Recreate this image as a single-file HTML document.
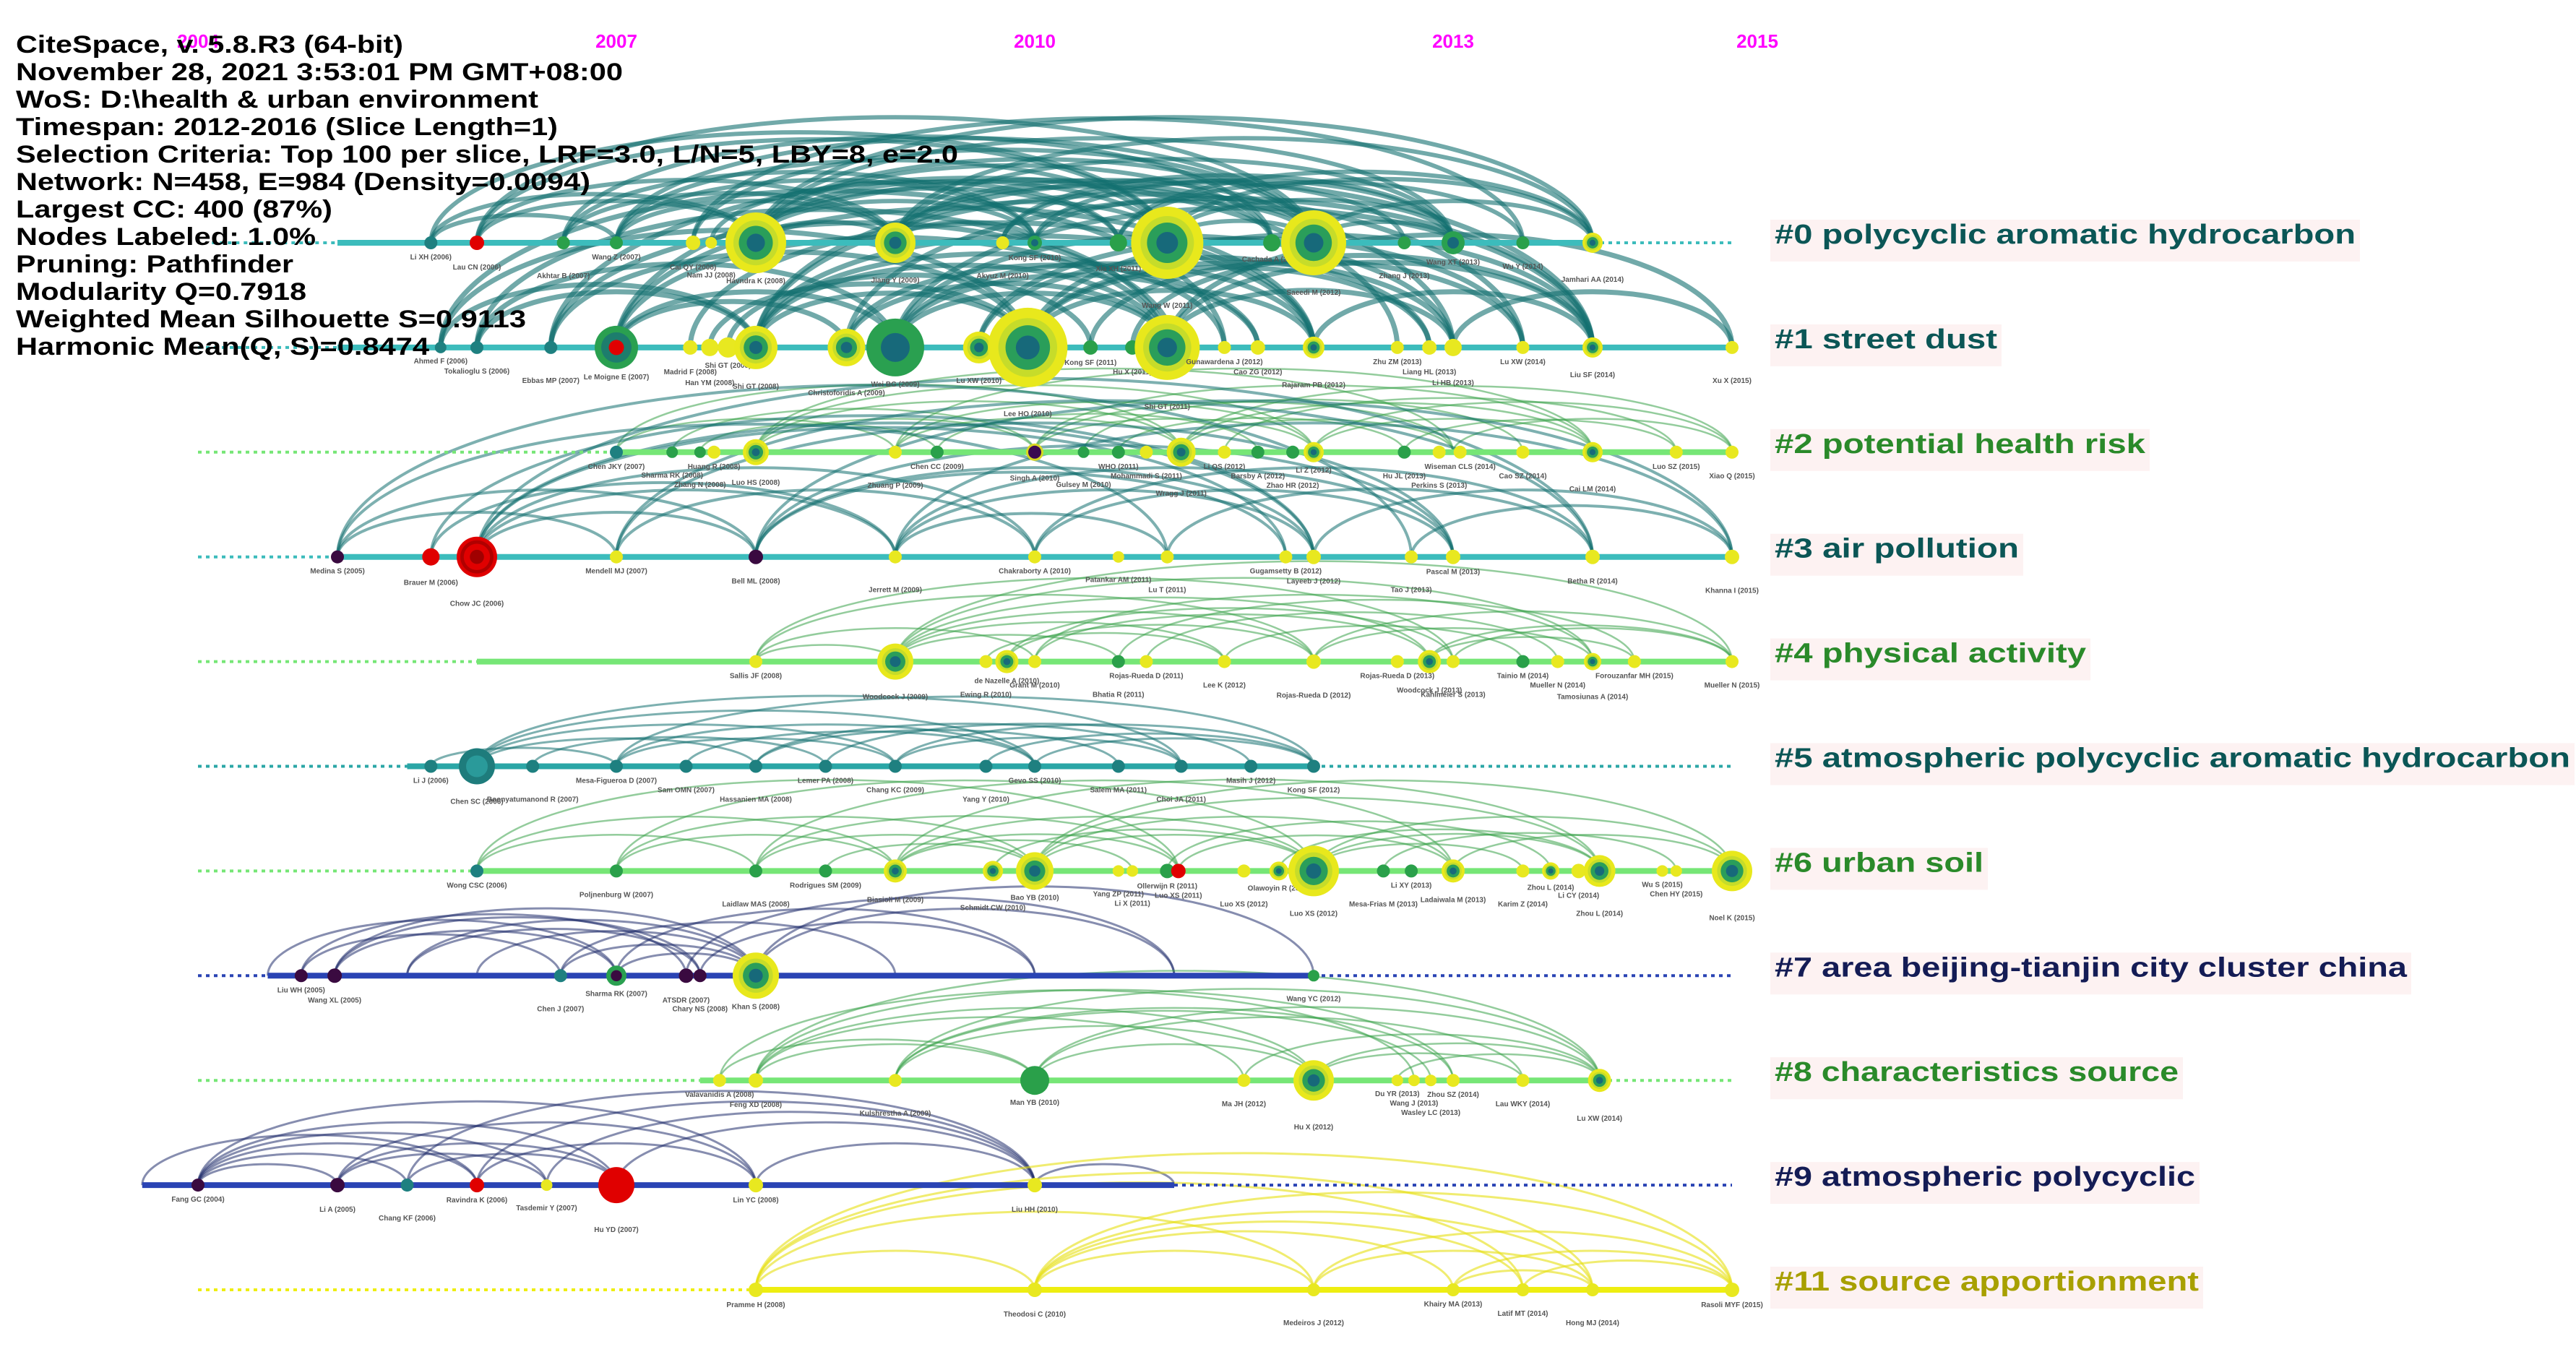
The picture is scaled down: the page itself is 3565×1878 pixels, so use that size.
<!DOCTYPE html>
<html><head><meta charset="utf-8"><style>
html,body{margin:0;padding:0;background:#fff;}
svg{display:block;font-family:"Liberation Sans",sans-serif;}
</style></head><body>
<svg id="chart" width="3565" height="1878" viewBox="0 0 3565 1878" xmlns="http://www.w3.org/2000/svg">
<g id="arcs"></g>
<g id="lines"></g>
<g id="nodes"></g>
<g id="labels"></g>
<g id="years"></g>
<g id="meta"></g>
</svg>
<script>
const tickYears=[2004,2007,2010,2013,2015];
const clusterIds=["#0","#1","#2","#3","#4","#5","#6","#7","#8","#9","#11"];
const clusterNames=["polycyclic aromatic hydrocarbon","street dust","potential health risk","air pollution","physical activity","atmospheric polycyclic aromatic hydrocarbon","urban soil","area beijing-tianjin city cluster china","characteristics source","atmospheric polycyclic","source apportionment"];
const dashStart=[2004.1,2004.0,2004.0,2004.0,2004.0,2004.0,2004.0,2004.0,2004.0,2003.6,2004.0];
const solidStart=[2005.0,2005.0,2007.0,2005.0,2006.0,2005.5,2006.0,2004.5,2007.6,2003.6,2008.0];
const solidEnd=[2014.0,2015.0,2015.0,2015.0,2015.0,2012.0,2015.0,2012.0,2014.0,2011.0,2015.0];
const dashEnd=[2015,2015,2015,2015,2015,2015,2015,2015,2015,2015,2015];
const metaLines=["CiteSpace, v. 5.8.R3 (64-bit)","November 28, 2021 3:53:01 PM GMT+08:00","WoS: D:\\health & urban environment","Timespan: 2012-2016 (Slice Length=1)","Selection Criteria: Top 100 per slice, LRF=3.0, L/N=5, LBY=8, e=2.0","Network: N=458, E=984 (Density=0.0094)","Largest CC: 400 (87%)","Nodes Labeled: 1.0%","Pruning: Pathfinder","Modularity Q=0.7918","Weighted Mean Silhouette S=0.9113","Harmonic Mean(Q, S)=0.8474"];
const metaWidths=[536,840,723,750,1304,795,438,415,384,402,706,572];
const labelWidths=[804,308,513,338,431,1101,289,875,559,582,587];

const nodes0=[[2005.67,9,'t','Li XH (2006)'],[2006.0,10,'r','Lau CN (2006)'],[2006.62,9,'g','Akhtar B (2007)'],[2007.0,9,'g','Wang Z (2007)'],[2007.55,10,'y','Cai QY (2008)'],[2007.68,8,'y','Nam JJ (2008)'],[2008.0,42,'yr','Havndra K (2008)'],[2009.0,28,'yr','Jiang Y (2009)'],[2009.77,9,'y','Akyuz M (2010)'],[2010.0,10,'gr','Kong SF (2010)'],[2010.6,12,'g','Xia XH (2011)'],[2010.95,50,'yr','Wang W (2011)'],[2011.7,12,'g','Cachada A (2012)'],[2012.0,45,'yr','Saeedi M (2012)'],[2012.65,9,'g','Zhang J (2013)'],[2013.0,16,'gr','Wang XT (2013)'],[2013.5,9,'g','Wu Y (2014)'],[2014.0,14,'yr','Jamhari AA (2014)']];
const nodes1=[[2005.74,8,'t','Ahmed F (2006)'],[2006.0,9,'t','Tokalioglu S (2006)'],[2006.53,9,'t','Ebbas MP (2007)'],[2007.0,30,'grr','Le Moigne E (2007)'],[2007.53,10,'y','Madrid F (2008)'],[2007.67,12,'y','Han YM (2008)'],[2007.8,14,'y','Shi GT (2008)'],[2008.0,30,'yr','Shi GT (2008)'],[2008.65,26,'yr','Christoforidis A (2009)'],[2009.0,40,'gr','Wei BG (2009)'],[2009.6,22,'yr','Lu XW (2010)'],[2009.95,55,'yr','Lee HO (2010)'],[2010.4,10,'g','Kong SF (2011)'],[2010.7,10,'g','Hu X (2011)'],[2010.95,45,'yr','Shi GT (2011)'],[2011.36,9,'y','Gunawardena J (2012)'],[2011.6,10,'y','Cao ZG (2012)'],[2012.0,15,'yr','Rajaram PB (2012)'],[2012.6,9,'y','Zhu ZM (2013)'],[2012.83,10,'y','Liang HL (2013)'],[2013.0,12,'y','Li HB (2013)'],[2013.5,9,'y','Lu XW (2014)'],[2014.0,14,'yr','Liu SF (2014)'],[2015.0,9,'y','Xu X (2015)']];
const nodes2=[[2007.0,9,'t','Chen JKY (2007)'],[2007.4,8,'g','Sharma RK (2008)'],[2007.6,8,'g','Zhang N (2008)'],[2007.7,9,'y','Huang R (2008)'],[2008.0,18,'yr','Luo HS (2008)'],[2009.0,9,'y','Zhuang P (2009)'],[2009.3,9,'g','Chen CC (2009)'],[2010.0,12,'pr','Singh A (2010)'],[2010.35,8,'g','Gulsey M (2010)'],[2010.6,9,'g','WHO (2011)'],[2010.8,9,'y','Mohammadi S (2011)'],[2011.05,20,'yr','Wragg J (2011)'],[2011.36,9,'y','Li QS (2012)'],[2011.6,9,'g','Barsby A (2012)'],[2011.85,9,'g','Zhao HR (2012)'],[2012.0,14,'yr','Li Z (2012)'],[2012.65,9,'g','Hu JL (2013)'],[2012.9,9,'y','Perkins S (2013)'],[2013.05,9,'y','Wiseman CLS (2014)'],[2013.5,9,'y','Cao SZ (2014)'],[2014.0,14,'yr','Cai LM (2014)'],[2014.6,9,'y','Luo SZ (2015)'],[2015.0,9,'y','Xiao Q (2015)']];
const nodes3=[[2005.0,9,'p','Medina S (2005)'],[2005.67,12,'r','Brauer M (2006)'],[2006.0,28,'rr','Chow JC (2006)'],[2007.0,9,'y','Mendell MJ (2007)'],[2008.0,10,'p','Bell ML (2008)'],[2009.0,9,'y','Jerrett M (2009)'],[2010.0,9,'y','Chakraborty A (2010)'],[2010.6,8,'y','Patankar AM (2011)'],[2010.95,9,'y','Lu T (2011)'],[2011.8,9,'y','Gugamsetty B (2012)'],[2012.0,10,'y','Layeeb J (2012)'],[2012.7,9,'y','Tao J (2013)'],[2013.0,10,'y','Pascal M (2013)'],[2014.0,10,'y','Betha R (2014)'],[2015.0,10,'y','Khanna I (2015)']];
const nodes4=[[2008.0,9,'y','Sallis JF (2008)'],[2009.0,25,'yr','Woodcock J (2009)'],[2009.65,9,'y','Ewing R (2010)'],[2009.8,16,'yr','de Nazelle A (2010)'],[2010.0,9,'y','Grant M (2010)'],[2010.6,9,'g','Bhatia R (2011)'],[2010.8,9,'y','Rojas-Rueda D (2011)'],[2011.36,9,'y','Lee K (2012)'],[2012.0,10,'y','Rojas-Rueda D (2012)'],[2012.6,9,'y','Rojas-Rueda D (2013)'],[2012.83,16,'yr','Woodcock J (2013)'],[2013.0,9,'y','Kahlmeier S (2013)'],[2013.5,9,'g','Tainio M (2014)'],[2013.75,9,'y','Mueller N (2014)'],[2014.0,12,'yr','Tamosiunas A (2014)'],[2014.3,9,'y','Forouzanfar MH (2015)'],[2015.0,9,'y','Mueller N (2015)']];
const nodes5=[[2005.67,9,'t','Li J (2006)'],[2006.0,25,'tr','Chen SC (2006)'],[2006.4,9,'t','Boonyatumanond R (2007)'],[2007.0,9,'t','Mesa-Figueroa D (2007)'],[2007.5,9,'t','Sam OMN (2007)'],[2008.0,9,'t','Hassanien MA (2008)'],[2008.5,9,'t','Lemer PA (2008)'],[2009.0,9,'t','Chang KC (2009)'],[2009.65,9,'t','Yang Y (2010)'],[2010.0,9,'t','Gevo SS (2010)'],[2010.6,9,'t','Salem MA (2011)'],[2011.05,9,'t','Choi JA (2011)'],[2011.55,9,'t','Masih J (2012)'],[2012.0,9,'t','Kong SF (2012)']];
const nodes6=[[2006.0,9,'t','Wong CSC (2006)'],[2007.0,9,'g','Poljnenburg W (2007)'],[2008.0,9,'g','Laidlaw MAS (2008)'],[2008.5,9,'g','Rodrigues SM (2009)'],[2009.0,16,'yr','Biasioli M (2009)'],[2009.7,14,'yr','Schmidt CW (2010)'],[2010.0,26,'yr','Bao YB (2010)'],[2010.6,8,'y','Yang ZP (2011)'],[2010.7,8,'y','Li X (2011)'],[2010.95,10,'g','Ollerwijn R (2011)'],[2011.03,10,'r','Luo XS (2011)'],[2011.5,9,'y','Luo XS (2012)'],[2011.75,13,'yr','Olawoyin R (2012)'],[2012.0,35,'yr','Luo XS (2012)'],[2012.5,9,'g','Mesa-Frias M (2013)'],[2012.7,9,'g','Li XY (2013)'],[2013.0,16,'yr','Ladaiwala M (2013)'],[2013.5,9,'y','Karim Z (2014)'],[2013.7,12,'yr','Zhou L (2014)'],[2013.9,10,'y','Li CY (2014)'],[2014.05,22,'yr','Zhou L (2014)'],[2014.5,8,'y','Wu S (2015)'],[2014.6,8,'y','Chen HY (2015)'],[2015.0,28,'yr','Noel K (2015)']];
const nodes7=[[2004.74,9,'p','Liu WH (2005)'],[2004.98,10,'p','Wang XL (2005)'],[2006.6,9,'t','Chen J (2007)'],[2007.0,14,'gp','Sharma RK (2007)'],[2007.5,10,'p','ATSDR (2007)'],[2007.6,9,'p','Chary NS (2008)'],[2008.0,32,'yr','Khan S (2008)'],[2012.0,8,'g','Wang YC (2012)']];
const nodes8=[[2007.74,9,'y','Valavanidis A (2008)'],[2008.0,10,'y','Feng XD (2008)'],[2009.0,9,'y','Kulshrestha A (2009)'],[2010.0,20,'g','Man YB (2010)'],[2011.5,9,'y','Ma JH (2012)'],[2012.0,28,'yr','Hu X (2012)'],[2012.6,8,'y','Du YR (2013)'],[2012.72,8,'y','Wang J (2013)'],[2012.84,8,'y','Wasley LC (2013)'],[2013.0,9,'y','Zhou SZ (2014)'],[2013.5,9,'y','Lau WKY (2014)'],[2014.05,16,'yr','Lu XW (2014)']];
const nodes9=[[2004.0,9,'p','Fang GC (2004)'],[2005.0,10,'p','Li A (2005)'],[2005.5,9,'t','Chang KF (2006)'],[2006.0,10,'r','Ravindra K (2006)'],[2006.5,8,'y','Tasdemir Y (2007)'],[2007.0,25,'r','Hu YD (2007)'],[2008.0,10,'y','Lin YC (2008)'],[2010.0,10,'y','Liu HH (2010)']];
const nodes11=[[2008.0,10,'y','Pramme H (2008)'],[2010.0,10,'y','Theodosi C (2010)'],[2012.0,9,'y','Medeiros J (2012)'],[2013.0,9,'y','Khairy MA (2013)'],[2013.5,9,'y','Latif MT (2014)'],[2014.0,9,'y','Hong MJ (2014)'],[2015.0,10,'y','Rasoli MYF (2015)']];

const links0=[[2005.67,2008],[2006,2008],[2006,2009],[2006.62,2009],[2007,2010],[2007,2010.95],[2008,2010.95],[2008,2012],[2008,2011.7],[2008,2013],[2009,2010.95],[2009,2012],[2009,2014],[2007.55,2012],[2006,2010.95],[2010,2012],[2010.95,2013],[2010.95,2014],[2012,2014],[2012,2013],[2009.77,2013],[2008,2009],[2010.95,2012],[2007,2009],[2005.67,2007],[2008,2014],[2006.62,2011.7],[2009,2011.7],[2010.6,2013.5],[2007.68,2010.6],[2009,2013],[2008,2010],[2006,2012],[2005.67,2010.95],[2007,2012],[2007.55,2013.5],[2009.77,2012.65],[2010,2013],[2010.6,2014],[2006.62,2010],[2008,2010.6],[2009,2010]];
const links1=[[2005.74,2008],[2006,2009],[2006.53,2009.95],[2007,2009],[2007,2010.95],[2008,2009.95],[2008,2010.95],[2008,2012],[2009,2010.95],[2009,2012],[2009,2013],[2009.95,2012],[2009.95,2013],[2009.95,2014],[2010.95,2013],[2010.95,2014],[2010.95,2015],[2008.65,2011.6],[2007.8,2010.4],[2006,2008],[2007,2008.65],[2012,2014],[2013,2015],[2008,2013.5],[2006.53,2011],[2009.6,2012.83],[2008.65,2014],[2007.53,2012],[2005.74,2009.95],[2010.4,2013.5],[2006,2010.95],[2007,2012],[2007,2013],[2008,2014],[2009,2014],[2009.6,2013.5],[2008.65,2010.95],[2005.74,2011.36],[2006.53,2012.6],[2009.95,2012.83],[2010.7,2014],[2007.67,2009.95],[2008,2011.36],[2009,2011.6]];
const links2=[[2007,2009],[2007.4,2010],[2008,2010],[2008,2011.05],[2009,2011.05],[2009,2012],[2010,2012],[2010,2013],[2011.05,2013],[2011.05,2014],[2012,2014],[2012,2015],[2009.3,2011.6],[2010.6,2012.65],[2013,2015],[2008,2012],[2011.05,2015],[2007.6,2009.3],[2012.65,2014.6],[2010,2014],[2007,2011.05],[2008,2013],[2009,2014],[2011.36,2014.6],[2010.35,2013.5]];
const links3=[[2005,2008],[2005.67,2009],[2006,2009],[2006,2010],[2006,2012],[2007,2010],[2005,2010.95],[2008,2011.8],[2008,2012],[2009,2012],[2009,2013],[2010,2013],[2010,2014],[2010.95,2014],[2012,2015],[2005.67,2012],[2006,2014],[2007,2013],[2008,2015],[2012.7,2015],[2009,2010.95],[2005,2007],[2006,2011.8],[2005,2012.7],[2007,2014],[2008,2013],[2009,2015],[2006,2008]];
const links4=[[2008,2009],[2008,2010],[2009,2010.6],[2009,2011.36],[2009,2012],[2009,2012.83],[2009.8,2012],[2009.8,2013],[2010,2012.83],[2010,2014],[2011.36,2013.5],[2012,2014],[2012,2015],[2012.83,2014.3],[2012.83,2015],[2013,2015],[2009,2014],[2010.8,2013.75],[2009.65,2011.36],[2008,2012],[2009,2015],[2010.6,2014.3],[2008,2013]];
const links5=[[2005.67,2007],[2006,2008],[2006,2009],[2006.4,2008.5],[2007,2009],[2007,2010],[2007.5,2010],[2008,2010.6],[2008,2011.05],[2009,2011.05],[2009,2012],[2010,2012],[2006,2010],[2008.5,2011.55],[2009.65,2012],[2006,2011.05],[2007,2012]];
const links6=[[2006,2008],[2006,2009],[2007,2009],[2007,2010],[2008,2010],[2008,2011.03],[2009,2011.03],[2009,2012],[2009.7,2012],[2010,2012],[2010,2013],[2010,2014.05],[2011.03,2013],[2011.75,2014.05],[2012,2014.05],[2012,2015],[2013,2015],[2012.5,2014.6],[2008.5,2010],[2010.95,2013.7],[2009,2010.7],[2012,2013.5],[2006,2011.03],[2007,2012],[2008,2013],[2009,2014.05],[2010,2015]];
const links7=[[2004.74,2006.6],[2004.98,2007],[2004.98,2007.6],[2004.98,2008],[2004.74,2007.5],[2006.6,2008],[2007,2008],[2006.6,2009],[2007,2010],[2007.5,2011],[2008,2011],[2008,2012],[2007.6,2010],[2005.5,2007.6],[2006,2008],[2004.5,2007],[2005.5,2008]];
const links8=[[2007.74,2010],[2008,2010],[2008,2011.5],[2008,2012],[2009,2012],[2009,2013],[2010,2012],[2010,2013.5],[2011.5,2014.05],[2012,2014.05],[2012,2013.5],[2008,2014.05],[2009,2012.84],[2012.6,2014.05],[2007.74,2012.72],[2009,2014.05],[2010,2014.05],[2008,2013]];
const links9=[[2004,2005],[2004,2006],[2004,2006.5],[2004,2007],[2005,2006.5],[2005,2007],[2005,2008],[2005.5,2007],[2006,2008],[2006,2010],[2006.5,2010],[2007,2010],[2008,2010],[2004,2005.5],[2005.5,2010],[2010,2011],[2004,2008],[2003.6,2006]];
const links11=[[2008,2010],[2008,2012],[2008,2013.5],[2010,2012],[2010,2013],[2010,2014],[2010,2015],[2012,2014],[2012,2015],[2013,2015],[2013.5,2015],[2013,2014],[2008,2014],[2010,2013.5],[2008,2015]];

const allNodes=[nodes0,nodes1,nodes2,nodes3,nodes4,nodes5,nodes6,nodes7,nodes8,nodes9,nodes11];
const allLinks=[links0,links1,links2,links3,links4,links5,links6,links7,links8,links9,links11];
const laneStyle=[
 {line:'#3cbcbc',arc:'#127070',w:6,k:0.3,op:0.6,label:'#0b5656'},
 {line:'#3cbcbc',arc:'#127070',w:7,k:0.4,op:0.6,label:'#0b5656'},
 {line:'#76e676',arc:'#3aa34a',w:2.5,k:0.24,op:0.55,label:'#2a8a2a'},
 {line:'#3cbcbc',arc:'#127070',w:4,k:0.32,op:0.55,label:'#0b5656'},
 {line:'#76e676',arc:'#3aa34a',w:2.5,k:0.24,op:0.55,label:'#2a8a2a'},
 {line:'#2aa6a6',arc:'#127070',w:3,k:0.2,op:0.55,label:'#0b5656'},
 {line:'#76e676',arc:'#3aa34a',w:2.5,k:0.26,op:0.55,label:'#2a8a2a'},
 {line:'#2a44b4',arc:'#23306e',w:3,k:0.32,op:0.55,label:'#141c55'},
 {line:'#76e676',arc:'#3aa34a',w:2.5,k:0.26,op:0.55,label:'#2a8a2a'},
 {line:'#2a44b4',arc:'#23306e',w:3,k:0.3,op:0.55,label:'#141c55'},
 {line:'#eeee10',arc:'#e6e010',w:3,k:0.28,op:0.6,label:'#a8a000'}];

const NS='http://www.w3.org/2000/svg';
function xs(yr){return 1432+(yr-2010)*193;}
function laneY(i){return 336+i*144.9;}
function mk(tag,parent,attrs){const e=document.createElementNS(NS,tag);for(const k in attrs)e.setAttribute(k,attrs[k]);parent.appendChild(e);return e;}
const gArcs=document.getElementById('arcs'),gLines=document.getElementById('lines'),gNodes=document.getElementById('nodes'),gLab=document.getElementById('labels'),gYears=document.getElementById('years'),gMeta=document.getElementById('meta');

allLinks.forEach((links,i)=>{
 const y=laneY(i),st=laneStyle[i];
 links.forEach(([a,b])=>{
  const x1=xs(a),x2=xs(b),rx=(x2-x1)/2,ry=rx*st.k;
  const p=mk('path',gArcs,{d:`M${x1},${y} A${rx},${Math.max(ry,10)} 0 0 1 ${x2},${y}`,fill:'none',stroke:st.arc,'stroke-width':st.w,'stroke-opacity':st.op});
  
  
 });
});

clusterIds.forEach((id,i)=>{
 const y=laneY(i),st=laneStyle[i];
 const d1=mk('line',gLines,{x1:xs(dashStart[i]),y1:y,x2:xs(solidStart[i]),y2:y,stroke:st.line,'stroke-width':4,'stroke-dasharray':'5 6'});
 
 
 const s=mk('line',gLines,{x1:xs(solidStart[i]),y1:y,x2:xs(solidEnd[i]),y2:y,stroke:st.line,'stroke-width':8});
 
 
 if(dashEnd[i]>solidEnd[i]){
  const d2=mk('line',gLines,{x1:xs(solidEnd[i]),y1:y,x2:xs(dashEnd[i]),y2:y,stroke:st.line,'stroke-width':4,'stroke-dasharray':'5 6'});
  
  
 }
});

const ringSets={
 yr:[[1,'#e8e81c'],[0.74,'#c6dc2a'],[0.56,'#2a9e5a'],[0.3,'#17697a']],
 gr:[[1,'#2aa050'],[0.5,'#17697a']],
 grr:[[1,'#2aa050'],[0.7,'#1d7d6d'],[0.35,'#e00000']],
 rr:[[1,'#e00000'],[0.82,'#b00000'],[0.65,'#e00000'],[0.35,'#a00000']],
 pr:[[1,'#d8d820'],[0.75,'#3a0a50']],
 tr:[[1,'#1e7c7c'],[0.6,'#2a9a9a']],
 gp:[[1,'#2aa050'],[0.55,'#3a0a40']],
 t:[[1,'#1e8080']],g:[[1,'#2aa04a']],r:[[1,'#e00000']],p:[[1,'#3a0a40']],y:[[1,'#e8e820']]};
allNodes.forEach((ns,i)=>{
 const y=laneY(i);
 ns.forEach((n,j)=>{
  const [yr,r,type,lab]=n;const x=xs(yr);
  const g=mk('g',gNodes,{});
  
  
  ringSets[type].forEach(([f,c])=>mk('circle',g,{cx:x,cy:y,r:r*f,fill:c}));
  const t=mk('text',gNodes,{x:x,y:y+Math.max(r,8)+14+(j%3)*13,'font-size':10,'font-weight':'bold','fill':'#555','text-anchor':'middle'});
  t.textContent=lab;
  
  
 });
});

clusterIds.forEach((id,i)=>{
 const y=laneY(i);
 const bg=mk('rect',gLab,{x:2450,y:y-32,width:labelWidths[i]+12,height:58,fill:'#fdf2f2'});
 
 
 const t=mk('text',gLab,{x:2456,y:y+1,'font-size':38,'font-weight':'bold',fill:laneStyle[i].label,textLength:labelWidths[i],lengthAdjust:'spacingAndGlyphs'});
 t.textContent=id+' '+clusterNames[i];
 
 
});

tickYears.forEach(yr=>{
 const t=mk('text',gYears,{x:xs(yr)+(yr===2015?35:0),y:66,'font-size':26,'font-weight':'bold',fill:'#ff00ff','text-anchor':'middle'});
 t.textContent=String(yr);
 
 
});

metaLines.forEach((s,i)=>{
 const t=mk('text',gMeta,{x:22,y:73+i*38,'font-size':34,'font-weight':'bold',fill:'#000',textLength:metaWidths[i],lengthAdjust:'spacingAndGlyphs'});
 t.textContent=s;
 
 
});
</script>
</body></html>
